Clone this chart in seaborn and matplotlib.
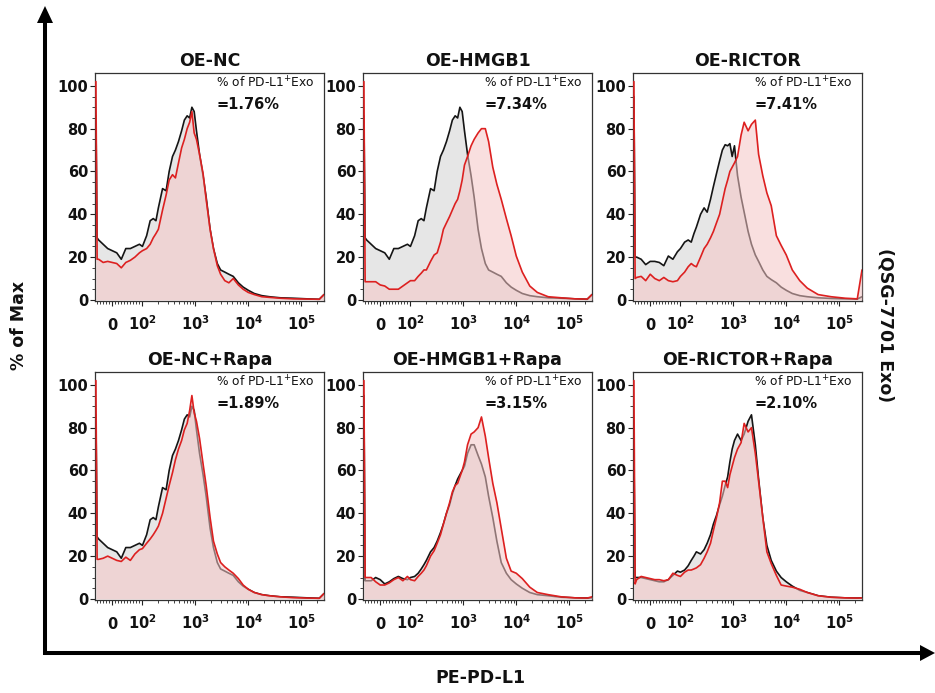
import matplotlib
matplotlib.use("Agg")
import matplotlib.pyplot as plt
import seaborn as sns
import numpy as np
from matplotlib.lines import Line2D
from matplotlib.patches import Polygon
from matplotlib.ticker import FixedLocator, NullFormatter

sns.set_theme(style="ticks")
plt.rcParams["font.family"] = ["DejaVu Sans"]
plt.rcParams["mathtext.fontset"] = "dejavusans"
plt.rcParams["axes.linewidth"] = 0.9

# PE channel positions (biexponential-like display: linear near 0, log above 100)
intensity = [-54, -50, -45, -30, -15, 0, 15, 30, 45, 60, 75, 90, 100, 120, 140, 160, 180, 200,
             240, 280, 320, 370, 420, 480, 550, 620, 700, 780, 860, 950, 1050, 1200, 1400,
             1600, 1900, 2200, 2600, 3000, 3600, 4300, 5200, 6500, 8000, 10000, 13000,
             18000, 25000, 40000, 70000, 130000, 220000, 270000]

# isotype control histograms (% of max)
ctrl_oe = [86, 29, 28, 26, 24, 23, 22, 19, 24, 24, 25, 26, 25, 30, 37, 38, 37, 43,
           52, 51, 60, 67, 70, 74, 79, 84, 86, 85, 90, 88, 79, 68, 58,
           48, 33, 24, 17, 14, 13, 12, 11, 8, 6, 4.5, 3,
           2, 1.5, 1, 0.8, 0.5, 0.3, 2.5]
ctrl_rictor = [95, 20, 20, 19, 16.5, 18, 18, 17.5, 16, 20.5, 19, 22.5, 24, 27, 28, 27, 31, 34,
               40, 43, 41, 47, 53, 59, 65, 70, 72.5, 72, 73, 67, 72, 58, 48,
               41, 32, 26, 21, 18, 14, 11, 9.5, 8, 6, 4.5, 3,
               2, 1.5, 1, 0.7, 0.5, 0.4, 1.5]
ctrl_hmgb1_rapa = [95, 8.5, 8.5, 8.5, 10, 9, 7, 8, 9.5, 10.5, 9.5, 9, 10, 10.5, 12, 14, 16, 18,
                   22, 24, 27, 31, 35, 40, 44, 49, 53, 56, 58, 60, 62, 68, 72,
                   72, 67, 63, 57, 48, 38, 27, 17, 12, 9, 7, 5,
                   3, 2, 1.5, 0.8, 0.5, 0.4, 0.5]
ctrl_rictor_rapa = [70, 10, 10, 10, 9.5, 9, 8.5, 8, 8, 9, 11, 13, 12.5, 13.5, 15.5, 18, 20, 22,
                    21, 23, 26, 30, 35, 39, 44, 48, 53, 57, 64, 70, 74, 77, 74,
                    77, 83, 86, 72, 56, 38, 25, 18, 13, 10, 8, 6,
                    4, 3, 1.5, 0.8, 0.5, 0.4, 0.5]

# PD-L1 stained exosome histograms (% of max)
pdl1_nc = [102, 19, 19, 17.5, 18, 17.5, 17, 15, 17.5, 18.5, 20, 22, 23, 24, 26, 29, 31, 33,
           42, 49, 56, 58.5, 57, 64, 71, 75, 80, 83, 88, 78, 75, 68, 59,
           47, 33, 24, 16, 12, 9, 8, 10, 7, 5, 3.5, 2.5,
           1.5, 1.2, 0.8, 0.5, 0.4, 0.3, 2.5]
pdl1_hmgb1 = [102, 8.5, 8.5, 8.5, 8.5, 7, 6.5, 5, 5, 5, 6.5, 8, 9, 9, 11, 12.5, 14, 14,
              18, 21, 22, 27, 33, 36, 39, 42, 45, 47, 51, 56, 63, 67, 72,
              75, 78, 80, 80, 74, 62, 54, 47, 38, 30, 20.5, 13,
              6.5, 3.5, 1.5, 1, 0.5, 0.4, 2.5]
pdl1_rictor = [102, 10, 10.5, 11, 9, 12, 10, 9, 10.5, 9, 8.5, 9, 11, 13, 15.5, 17, 16, 15.5,
               20, 24, 26, 29, 32, 36, 40, 46, 52, 56, 60, 62, 64, 67, 77,
               83, 79, 82, 84, 68, 58, 50, 44, 30, 25.5, 21, 14,
               9, 5.5, 2.5, 1.5, 0.8, 0.5, 14]
pdl1_nc_rapa = [102, 18.5, 18.5, 19, 20, 19, 18, 17.5, 19.5, 18, 21, 23, 23.5, 26, 28, 30, 32, 34,
                40, 47, 53, 59, 65, 70, 74, 79, 82, 88, 95, 87, 83, 75, 63,
                53, 38, 27, 21, 17, 15, 13.5, 12, 9.5, 6.5, 4.5, 3,
                2, 1.5, 1, 0.6, 0.4, 0.3, 2.5]
pdl1_hmgb1_rapa = [102, 10, 10, 10, 8, 6.5, 6.5, 7.5, 9, 10, 8.5, 10.5, 9, 8.5, 10.5, 12, 13.5, 15.5,
                   20, 22.5, 26, 30, 35, 40, 45, 50, 53, 54, 57, 60, 64, 72, 77,
                   78, 80, 85, 76, 66, 54, 45, 33, 19, 13, 12, 9.5,
                   5.5, 3, 2, 1, 0.5, 0.4, 1]
pdl1_rictor_rapa = [102, 7, 9, 10.5, 10, 9.5, 9, 9, 8.5, 9, 12, 11, 10.5, 12.5, 13.5, 13.5, 14, 14.5,
                    16, 19, 22, 26, 32, 38, 45, 55, 55, 52, 58, 62, 66, 70, 73,
                    82, 78, 80, 68, 55, 38, 22, 16.5, 11, 6.5, 6, 5.5,
                    4.5, 3, 1.5, 0.8, 0.5, 0.4, 0.5]

groups = ["OE-NC", "OE-HMGB1", "OE-RICTOR", "OE-NC+Rapa", "OE-HMGB1+Rapa", "OE-RICTOR+Rapa"]
positive_pct = [1.76, 7.34, 7.41, 1.89, 3.15, 2.10]
controls = [ctrl_oe, ctrl_oe, ctrl_rictor, ctrl_oe, ctrl_hmgb1_rapa, ctrl_rictor_rapa]
stained = [pdl1_nc, pdl1_hmgb1, pdl1_rictor, pdl1_nc_rapa, pdl1_hmgb1_rapa, pdl1_rictor_rapa]

y_ticks = [0, 20, 40, 60, 80, 100]
x_ticks = [0, 1e2, 1e3, 1e4, 1e5]
x_tick_labels = ["0", r"$\mathbf{10^{2}}$", r"$\mathbf{10^{3}}$", r"$\mathbf{10^{4}}$", r"$\mathbf{10^{5}}$"]

W, H = 935, 693
fig = plt.figure(figsize=(W / 100, H / 100), dpi=100)
fig.patch.set_facecolor("white")


def px_axes(x0, y0, w, h):
    return fig.add_axes([x0 / W, 1 - (y0 + h) / H, w / W, h / H])


col_x = [95, 363, 633]
row_y = [73, 372]
pw, ph = 229, 228

BLACK = "#151515"
RED = "#dd2020"
GREY_FILL = "#e6e6e6"
RED_FILL = "#f5c6c6"

minor_x = [v for v in range(-50, 100, 10) if v != 0]
for d in range(2, 6):
    minor_x += [k * 10 ** d for k in range(2, 10)]
minor_x = [v for v in minor_x if v < 2.7e5]

x = np.array(intensity, dtype=float)
for i in range(6):
    ax = px_axes(col_x[i % 3], row_y[i // 3], pw, ph)
    ax.set_xscale("symlog", linthresh=100, linscale=0.514, base=10)
    c = np.array(controls[i], dtype=float)
    s = np.array(stained[i], dtype=float)

    ax.fill_between(x, 0, c, color=GREY_FILL, lw=0, zorder=1)
    sns.lineplot(x=x, y=c, ax=ax, color=BLACK, lw=1.2, estimator=None, sort=False, zorder=2)
    ax.fill_between(x, 0, s, color=RED_FILL, alpha=0.55, lw=0, zorder=3)
    sns.lineplot(x=x, y=s, ax=ax, color=RED, lw=1.2, estimator=None, sort=False, zorder=4)

    ax.set_xlim(-57, 2.7e5)
    ax.set_ylim(-0.5, 106)
    ax.set_xlabel("")
    ax.set_ylabel("")

    ax.xaxis.set_major_locator(FixedLocator(x_ticks))
    ax.xaxis.set_minor_locator(FixedLocator(minor_x))
    ax.xaxis.set_minor_formatter(NullFormatter())
    ax.set_xticklabels(x_tick_labels, fontsize=10.5, fontweight="bold", va="baseline")
    ax.set_yticks(y_ticks)
    ax.yaxis.set_minor_locator(FixedLocator([v for v in range(5, 105, 5) if v % 20]))
    ax.set_yticklabels([str(v) for v in y_ticks], fontsize=10.5, fontweight="bold")

    ax.tick_params(axis="both", which="major", direction="out", length=3.5, width=0.8,
                   color="#222222", labelcolor="#111111")
    ax.tick_params(axis="both", which="minor", direction="out", length=2, width=0.6,
                   color="#222222")
    ax.tick_params(axis="x", which="major", pad=17.5)
    ax.tick_params(axis="y", which="major", pad=1.5)
    for sp in ax.spines.values():
        sp.set_color("#333333")
        sp.set_linewidth(0.9)
        sp.set_visible(True)

    ax.set_title(groups[i], fontsize=12.5, fontweight="bold", pad=5, color="#111111")
    ax.text(0.53, 0.955, r"% of PD-L1$^{+}$Exo", transform=ax.transAxes, fontsize=8.8,
            ha="left", va="center", color="#111111")
    ax.text(0.53, 0.86, f"={positive_pct[i]:.2f}%", transform=ax.transAxes, fontsize=10.5,
            fontweight="bold", ha="left", va="center", color="#111111")


def fx(px):
    return px / W


def fy(py):
    return 1 - py / H


# outer axis arrows
fig.add_artist(Line2D([fx(45), fx(45)], [fy(655), fy(20)], transform=fig.transFigure,
                      color="black", lw=2.9, solid_capstyle="butt"))
fig.add_artist(Polygon([[fx(45), fy(6)], [fx(37), fy(23)], [fx(53), fy(23)]], closed=True,
                       transform=fig.transFigure, color="black", lw=0))
fig.add_artist(Line2D([fx(43.5), fx(922)], [fy(653), fy(653)], transform=fig.transFigure,
                      color="black", lw=2.9, solid_capstyle="butt"))
fig.add_artist(Polygon([[fx(935), fy(653)], [fx(920), fy(645)], [fx(920), fy(661)]], closed=True,
                       transform=fig.transFigure, color="black", lw=0))

fig.text(fx(19), fy(325), "% of Max", rotation=90, ha="center", va="center",
         fontsize=12.5, fontweight="bold", color="#111111")
fig.text(fx(480), fy(678), "PE-PD-L1", ha="center", va="center",
         fontsize=12.5, fontweight="bold", color="#111111")
fig.text(fx(885), fy(325), "(QSG-7701 Exo)", rotation=-90, ha="center", va="center",
         fontsize=12.5, fontweight="bold", color="#111111")

fig.savefig("out.png", dpi=100, facecolor="white")
